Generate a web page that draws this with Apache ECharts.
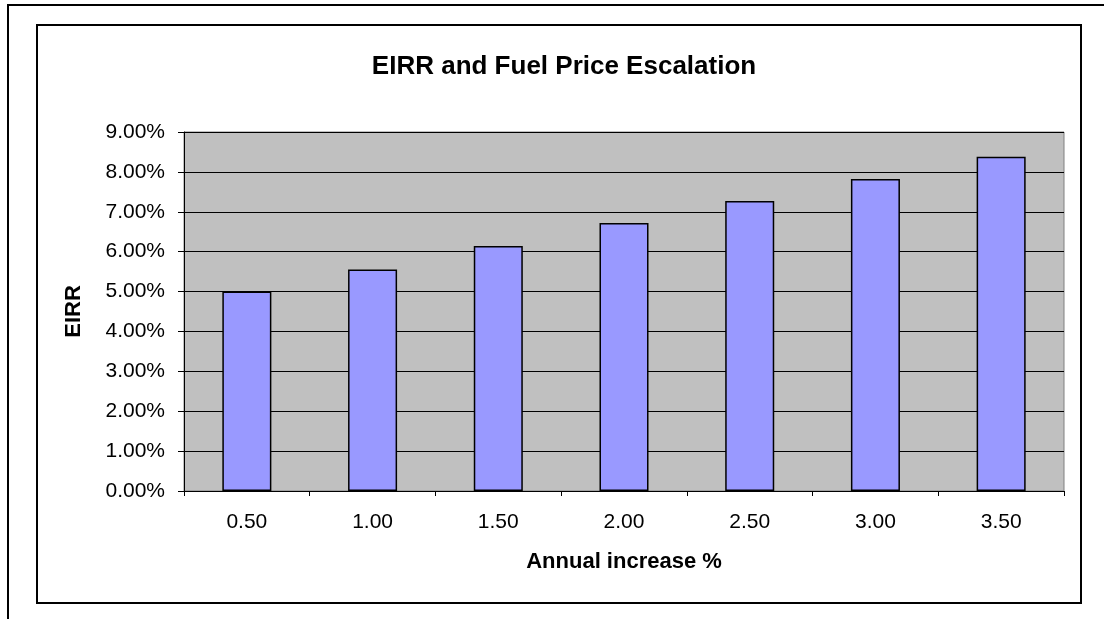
<!DOCTYPE html>
<html>
<head>
<meta charset="utf-8">
<script src="https://cdn.jsdelivr.net/npm/echarts@6/dist/echarts.min.js"></script>
<style>html,body{margin:0;padding:0;background:#fff;}#c{width:1104px;height:619px;}</style>
</head>
<body>
<div id="c"></div>
<script>
var categories = ['0.50', '1.00', '1.50', '2.00', '2.50', '3.00', '3.50'];
var eirrValues = [5.00, 5.55, 6.14, 6.72, 7.27, 7.82, 8.38];
var yTicks = { min: 0, max: 9, interval: 1 };

var chart = echarts.init(document.getElementById('c'), null, { renderer: 'canvas' });
chart.setOption({
  animation: false,
  backgroundColor: '#ffffff',
  title: {
    text: 'EIRR and Fuel Price Escalation',
    left: 559, top: 49, textAlign: 'center',
    textStyle: { fontFamily: 'Liberation Sans, Arial', fontWeight: 'bold', fontSize: 26, color: '#000' }
  },
  graphic: [
    { type: 'rect', shape: { x: 8, y: 5, width: 1200, height: 700 }, style: { fill: 'none', stroke: '#000', lineWidth: 2 }, z: 100 },
    { type: 'rect', shape: { x: 37, y: 25, width: 1044, height: 578 }, style: { fill: 'none', stroke: '#000', lineWidth: 2 }, z: 100 }
  ],
  grid: {
    left: 184, right: 40, top: 132, bottom: 128,
    show: true, backgroundColor: '#c0c0c0', borderColor: '#808080', borderWidth: 1
  },
  xAxis: {
    type: 'category',
    data: categories,
    name: 'Annual increase %',
    nameLocation: 'middle',
    nameGap: 60,
    nameTextStyle: { fontFamily: 'Liberation Sans, Arial', fontWeight: 'bold', fontSize: 22, color: '#000', verticalAlign: 'top' },
    axisLine: { lineStyle: { color: '#000', width: 1 } },
    axisTick: { show: true, length: 5, lineStyle: { color: '#000' } },
    axisLabel: { margin: 21, fontFamily: 'Liberation Sans, Arial', fontSize: 21, color: '#000' },
    splitLine: { show: false }
  },
  yAxis: {
    type: 'value',
    min: yTicks.min, max: yTicks.max, interval: yTicks.interval,
    name: 'EIRR',
    nameLocation: 'middle',
    nameGap: 99,
    nameRotate: 90,
    nameTextStyle: { fontFamily: 'Liberation Sans, Arial', fontWeight: 'bold', fontSize: 22, color: '#000' },
    axisLine: { show: true, lineStyle: { color: '#000', width: 1 } },
    axisTick: { show: true, length: 6, lineStyle: { color: '#000' } },
    axisLabel: {
      margin: 19, fontFamily: 'Liberation Sans, Arial', fontSize: 21, color: '#000',
      formatter: function (v) { return v.toFixed(2) + '%'; }
    },
    splitLine: { show: true, lineStyle: { color: '#000', width: 1 } }
  },
  series: [{
    type: 'bar',
    data: eirrValues,
    barWidth: '39%',
    itemStyle: { color: '#9999ff', borderColor: '#000', borderWidth: 1.5 }
  }]
});
</script>
</body>
</html>
